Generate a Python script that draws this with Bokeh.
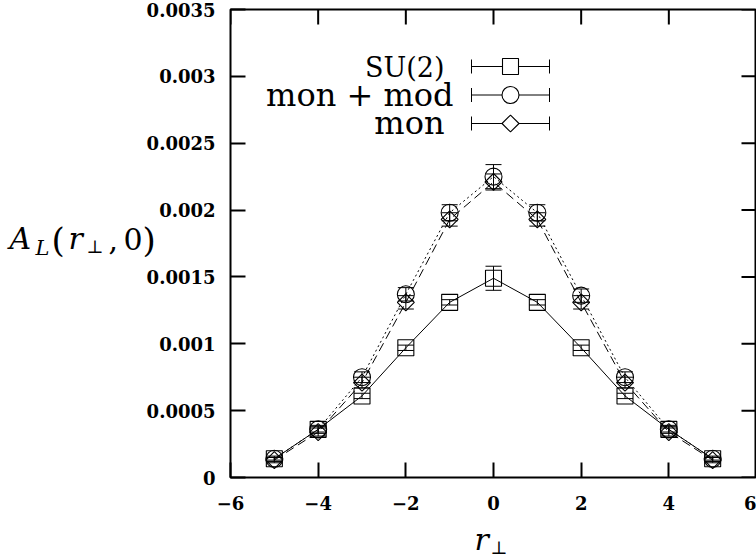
import numpy as np
from bokeh.plotting import figure
from bokeh.models import (ColumnDataSource, Whisker, TeeHead, Label, LinearAxis,
                          FixedTicker, Range1d)
from bokeh.embed import file_html
from bokeh.resources import INLINE

# ---- data: transverse profile A_L(r_perp, 0) ----
r_perp = [-5, -4, -3, -2, -1, 0, 1, 2, 3, 4, 5]

su2 = [0.00014, 0.00036, 0.00061, 0.00097, 0.00131, 0.00149, 0.00131, 0.00097, 0.00061, 0.00036, 0.00014]
su2_err = [0.00001, 0.00002, 0.00002, 0.00002, 0.00002, 0.00009, 0.00002, 0.00002, 0.00002, 0.00002, 0.00001]

mon_mod = [0.00014, 0.00036, 0.00075, 0.00137, 0.00198, 0.00225, 0.00198, 0.00136, 0.00075, 0.00036, 0.00014]
mon_mod_err = [0.00002, 0.00003, 0.00004, 0.00005, 0.00006, 0.00009, 0.00006, 0.00005, 0.00004, 0.00003, 0.00002]

mon = [0.00013, 0.00034, 0.00071, 0.00131, 0.00193, 0.00221, 0.00193, 0.00131, 0.00071, 0.00034, 0.00013]
mon_err = [0.00002, 0.00003, 0.00004, 0.00005, 0.00005, 0.00006, 0.00005, 0.00005, 0.00004, 0.00003, 0.00002]

x_ticks = [-6, -4, -2, 0, 2, 4, 6]
x_tick_labels = ["\u22126", "\u22124", "\u22122", "0", "2", "4", "6"]
y_ticks = [0, 0.0005, 0.001, 0.0015, 0.002, 0.0025, 0.003, 0.0035]
y_tick_labels = ["0", "0.0005", "0.001", "0.0015", "0.002", "0.0025", "0.003", "0.0035"]

series_names = ["SU(2)", "mon + mod", "mon"]

# ---- layout ----
W, H = 756, 556
B_LEFT, B_RIGHT, B_TOP, B_BOTTOM = 230, 0, 9, 79
X0, X1 = -6, 6
Y0, Y1 = 0, 0.0035
FW = W - B_LEFT - B_RIGHT
FH = H - B_TOP - B_BOTTOM
TICK_LEN = 15
SERIF = "DejaVu Serif"


def cx(px):
    """canvas pixel column -> data x"""
    return X0 + (px - B_LEFT) / FW * (X1 - X0)


def cy(py):
    """canvas pixel row -> data y"""
    return Y0 + (B_TOP + FH - py) / FH * (Y1 - Y0)


def base_y(baseline, size_px):
    """anchor row for a glyph baseline (labels sit slightly below their anchor)"""
    return cy(baseline - 0.26 * size_px)


p = figure(width=W, height=H, x_range=Range1d(X0, X1), y_range=Range1d(Y0, Y1),
           output_backend="svg", toolbar_location=None,
           x_axis_location=None, y_axis_location=None,
           min_border_left=B_LEFT, min_border_right=B_RIGHT,
           min_border_top=B_TOP, min_border_bottom=B_BOTTOM)
p.xgrid.visible = False
p.ygrid.visible = False
p.outline_line_color = "black"
p.outline_line_width = 2
p.background_fill_color = "white"
p.border_fill_color = "white"


def make_axis(ticks, labels, standoff):
    return LinearAxis(ticker=FixedTicker(ticks=ticks),
                      major_tick_in=TICK_LEN, major_tick_out=0,
                      minor_tick_in=0, minor_tick_out=0,
                      axis_line_color=None,
                      major_tick_line_width=2, major_tick_line_color="black",
                      major_label_overrides={t: s for t, s in zip(ticks, labels)},
                      major_label_text_font=SERIF,
                      major_label_text_font_style="bold",
                      major_label_text_font_size="18px",
                      major_label_text_color="black",
                      major_label_standoff=standoff)


p.add_layout(make_axis(x_ticks, x_tick_labels, 18), "below")
p.add_layout(make_axis(y_ticks, y_tick_labels, 15), "left")

# mirrored inward ticks on the top and right edges (half of each dash is clipped by the frame)
p.scatter(x=x_ticks, y=[Y1] * len(x_ticks), marker="dash", angle=np.pi / 2,
          size=2 * TICK_LEN, line_color="black", line_width=2)
p.scatter(x=[X1] * len(y_ticks), y=y_ticks, marker="dash", angle=0.0,
          size=2 * TICK_LEN, line_color="black", line_width=2)

# ---- series ----
styles = [
    dict(y=su2, err=su2_err, dash="solid", marker="square", size=16, angle=0.0),
    dict(y=mon_mod, err=mon_mod_err, dash="2 3", marker="circle", size=17, angle=0.0),
    dict(y=mon, err=mon_err, dash="9 5", marker="square", size=12, angle=np.pi / 4),
]

for st in styles:
    y = np.array(st["y"])
    e = np.array(st["err"])
    src = ColumnDataSource(dict(x=r_perp, y=y, lo=y - e, hi=y + e))
    p.line("x", "y", source=src, line_color="black", line_width=1, line_dash=st["dash"])
    p.add_layout(Whisker(source=src, base="x", lower="lo", upper="hi", dimension="height",
                         line_color="black", line_width=1,
                         lower_head=TeeHead(size=16, line_width=1, line_color="black"),
                         upper_head=TeeHead(size=16, line_width=1, line_color="black")))
    p.scatter("x", "y", source=src, marker=st["marker"], size=st["size"], angle=st["angle"],
              fill_color=None, line_color="black", line_width=1.1)

# ---- key ----
key_rows = [66, 94.5, 123]
key_text_right = [444, 453, 444]
key_font_px = [27, 32, 32]
key_x0, key_x1, key_xm = 471, 549, 510

for st, row, name, tr, fs in zip(styles, key_rows, series_names, key_text_right, key_font_px):
    ksrc = ColumnDataSource(dict(y=[cy(row)], x0=[cx(key_x0)], x1=[cx(key_x1)], xm=[cx(key_xm)]))
    p.add_layout(Whisker(source=ksrc, base="y", lower="x0", upper="x1", dimension="width",
                         line_color="black", line_width=1,
                         lower_head=TeeHead(size=14, line_width=1, line_color="black"),
                         upper_head=TeeHead(size=14, line_width=1, line_color="black")))
    p.scatter("xm", "y", source=ksrc, marker=st["marker"], size=st["size"], angle=st["angle"],
              fill_color="white", line_color="black", line_width=1.1)
    p.add_layout(Label(x=cx(tr), y=base_y(row + 8, fs), text=name, text_align="right",
                       text_baseline="alphabetic", text_font=SERIF,
                       text_font_size=f"{fs}px", text_color="black"))


# ---- axis titles built from pieces (italic symbols, subscripts) ----
def piece(text, px, baseline, size, side, italic=False):
    # kept in a side panel so the text is not clipped to the data frame
    p.add_layout(Label(x=cx(px), y=base_y(baseline, size), text=text, text_align="left",
                       text_baseline="alphabetic", text_font=SERIF,
                       text_font_size=f"{size}px",
                       text_font_style="italic" if italic else "normal",
                       text_color="black"), side)


# A_L(r_perp, 0)
piece("A", 9, 246, 30, "left", italic=True)
piece("L", 35, 253, 21, "left", italic=True)
piece("(", 51, 248, 34, "left")
piece("r", 68, 246, 30, "left", italic=True)
piece("\u22a5", 86, 251, 18, "left")
piece(",", 108, 246, 30, "left")
piece("0", 123, 246, 30, "left")
piece(")", 142, 248, 34, "left")

# r_perp
piece("r", 474, 547, 30, "below", italic=True)
piece("\u22a5", 490, 552, 18, "left")

open("out.html", "w").write(file_html(p, INLINE))
